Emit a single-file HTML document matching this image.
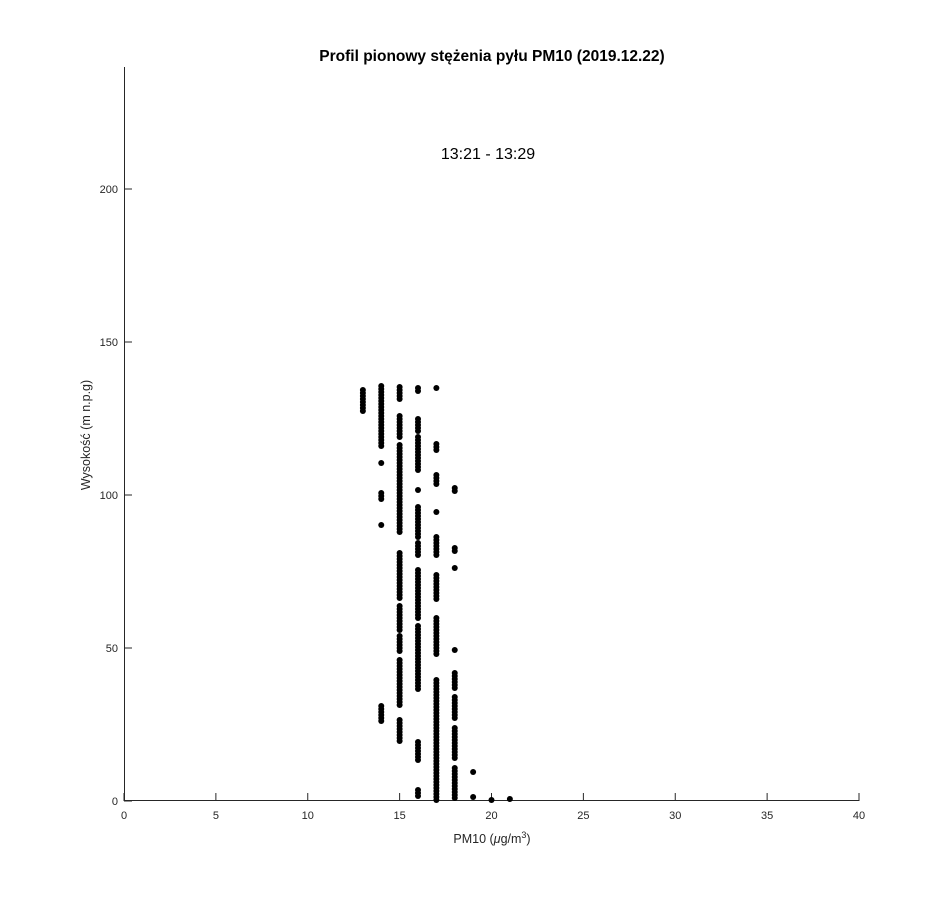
<!DOCTYPE html>
<html><head><meta charset="utf-8"><style>
html,body{margin:0;padding:0;background:#fff;}
svg{display:block;font-family:"Liberation Sans",sans-serif;}
</style></head><body>
<svg id="s" width="950" height="900" viewBox="0 0 950 900">
<rect width="950" height="900" fill="#fff"/>
<line x1="124.5" y1="67" x2="124.5" y2="801" stroke="#262626" stroke-width="1"/>
<line x1="124" y1="800.5" x2="859" y2="800.5" stroke="#262626" stroke-width="1"/>
<g id="ticks" stroke="#262626" stroke-width="1"></g>
<g font-size="11" fill="#262626" text-anchor="middle" id="xl"></g>
<g font-size="11" fill="#262626" text-anchor="end">
<text x="118" y="805">0</text><text x="118" y="652">50</text><text x="118" y="499">100</text><text x="118" y="346">150</text><text x="118" y="193">200</text>
</g>
<text x="492" y="61" font-size="15.5" font-weight="bold" text-anchor="middle" fill="#000">Profil pionowy stężenia pyłu PM10 (2019.12.22)</text>
<text x="488" y="159" font-size="16" text-anchor="middle" fill="#000">13:21 - 13:29</text>
<text x="492" y="843" font-size="12.5" text-anchor="middle" fill="#262626">PM10 (<tspan font-style="italic">μ</tspan>g/m<tspan dy="-5" font-size="9">3</tspan><tspan dy="5">)</tspan></text>
<text transform="translate(90,435) rotate(-90)" font-size="12.5" text-anchor="middle" fill="#262626">Wysokość (m n.p.g)</text>
<g id="d" fill="#000"></g>
</svg>
<script>
var ns="http://www.w3.org/2000/svg";
var t=document.getElementById("ticks"),xl=document.getElementById("xl");
for(var i=0;i<=8;i++){var x=124+i*91.875;
var l=document.createElementNS(ns,"line");l.setAttribute("x1",x);l.setAttribute("x2",x);l.setAttribute("y1",793);l.setAttribute("y2",801);t.appendChild(l);
var tx=document.createElementNS(ns,"text");tx.setAttribute("x",x);tx.setAttribute("y",819);tx.textContent=i*5;xl.appendChild(tx);}
[801,648,495,342,189].forEach(function(y){var l=document.createElementNS(ns,"line");l.setAttribute("x1",124);l.setAttribute("x2",132);l.setAttribute("y1",y);l.setAttribute("y2",y);t.appendChild(l);});
var cols={13:[[390,413]],14:[[386,448],[463,463],[493,500],[525,525],[706,722]],
15:[[387,400],[416,438],[445,534],[553,600],[606,630],[636,651],[660,705],[720,742]],
16:[[388,392],[419,432],[437,472],[490,490],[507,537],[543,557],[570,620],[626,690],[742,760],[790,798]],
17:[[388,390],[444,450],[475,486],[512,512],[537,557],[575,600],[618,655],[680,800]],
18:[[488,491],[548,552],[568,570],[650,650],[673,690],[697,720],[728,760],[768,800]],
19:[[772,772],[797,797]],20:[[800,800]],21:[[799,799]]};
var d=document.getElementById("d");
for(var k in cols){var x=124+k*18.375;cols[k].forEach(function(s){for(var y=s[0];y<=s[1];y+=3){var c=document.createElementNS(ns,"circle");c.setAttribute("cx",x);c.setAttribute("cy",y);c.setAttribute("r",3);d.appendChild(c);}});}
</script>
</body></html>
